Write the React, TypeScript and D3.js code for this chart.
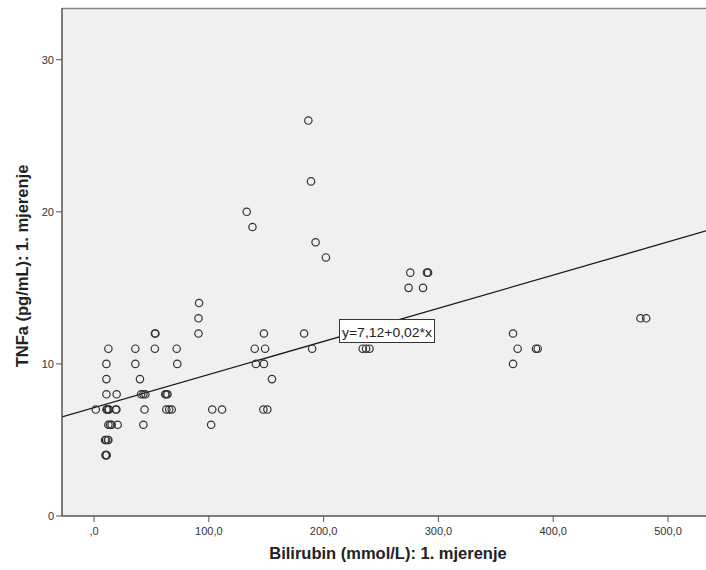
import * as d3 from "d3";

// bilirubin (x) values grouped by TNFa level (y)
const yLevels = [4, 5, 6, 7, 8, 9, 10, 11, 12, 13, 14, 15, 16, 17, 18, 19, 20, 22, 26];
const xByLevel: number[][] = [
  [10, 10.5, 11],
  [9.6, 10.5, 12, 12.5],
  [12.5, 14, 15.4, 20.6, 43, 102],
  [1.5, 10.8, 11.5, 12.5, 13, 18.9, 19.5, 44, 63, 65.5, 67.7, 103, 111.5, 147.5, 151],
  [10.8, 19.7, 41, 43, 44.7, 62, 63, 64],
  [10.8, 40, 155],
  [10.8, 36, 72.5, 141, 148, 365],
  [12.5, 36, 53, 72, 140, 149, 190, 234, 237, 240, 369, 385, 386.5],
  [53, 53.5, 91, 148, 183, 365],
  [91, 476, 481],
  [91.5],
  [274, 286.6],
  [275.5, 290, 291],
  [202],
  [193],
  [138],
  [133],
  [189],
  [186.7],
];

const xTicks = [0, 100, 200, 300, 400, 500];
const yTicks = [0, 10, 20, 30];
const intercept = 7.12;
const slope = 0.0218;
const fitLabel = "y=7,12+0,02*x";

const W = 706;
const H = 570;
const left = 62;
const right = 706;
const top = 8;
const bottom = 516;

export default function App() {
  const x = d3.scaleLinear().domain([-27.9, 533.1]).range([left, right]);
  const y = d3.scaleLinear().domain([0, 33.4]).range([bottom, top]);

  const points = yLevels.flatMap((lv, i) => xByLevel[i].map((v) => ({ x: v, y: lv })));

  const [d0, d1] = x.domain();
  const line = d3
    .line<number>()
    .x((d) => x(d))
    .y((d) => y(intercept + slope * d));

  const fmtX = (v: number) => (v === 0 ? ",0" : `${v},0`);

  return (
    <svg
      width={W}
      height={H}
      style={{ position: "absolute", left: 0, top: 0, fontFamily: "'Liberation Sans', Arial, sans-serif" }}
    >
      <rect x={0} y={0} width={W} height={H} fill="#fff" />
      <defs>
        <clipPath id="plot">
          <rect x={left} y={top} width={right - left} height={bottom - top} />
        </clipPath>
      </defs>
      <rect x={left} y={top} width={right - left} height={bottom - top} fill="#f0f0f0" />
      <line x1={left} x2={right} y1={top + 0.5} y2={top + 0.5} stroke="#888" strokeWidth={1.5} />

      <g clipPath="url(#plot)">
        <path d={line([d0, d1]) ?? ""} stroke="#1a1a1a" strokeWidth={1.3} fill="none" />
        {points.map((p, i) => (
          <circle key={i} cx={x(p.x)} cy={y(p.y)} r={3.7} fill="none" stroke="#333" strokeWidth={1.2} />
        ))}
      </g>

      {/* axes */}
      <line x1={left} x2={left} y1={top} y2={bottom} stroke="#555" strokeWidth={1.5} />
      <line x1={left} x2={right} y1={bottom} y2={bottom} stroke="#555" strokeWidth={1.5} />

      {yTicks.map((t) => (
        <g key={t}>
          <line x1={left - 6} x2={left} y1={y(t)} y2={y(t)} stroke="#555" />
          <text x={left - 8} y={y(t)} dy="0.35em" textAnchor="end" fontSize={11} fill="#333">
            {t}
          </text>
        </g>
      ))}
      {xTicks.map((t) => (
        <g key={t}>
          <line x1={x(t)} x2={x(t)} y1={bottom} y2={bottom + 6} stroke="#555" />
          <text x={x(t)} y={bottom + 19} textAnchor="middle" fontSize={11} fill="#333">
            {fmtX(t)}
          </text>
        </g>
      ))}

      <text x={388} y={559} textAnchor="middle" fontSize={16.5} fontWeight="bold" fill="#222">
        Bilirubin (mmol/L): 1. mjerenje
      </text>
      <text
        transform={`translate(28,266) rotate(-90)`}
        textAnchor="middle"
        fontSize={16.5}
        fontWeight="bold"
        fill="#222"
      >
        TNFa (pg/mL): 1. mjerenje
      </text>

      {/* fit label */}
      <g>
        <rect x={339.5} y={319.5} width={95} height={23} fill="#fff" stroke="#333" strokeWidth={1} />
        <text x={342} y={337} fontSize={13.5} fill="#222" textLength={90} lengthAdjust="spacingAndGlyphs">
          {fitLabel}
        </text>
      </g>
    </svg>
  );
}
